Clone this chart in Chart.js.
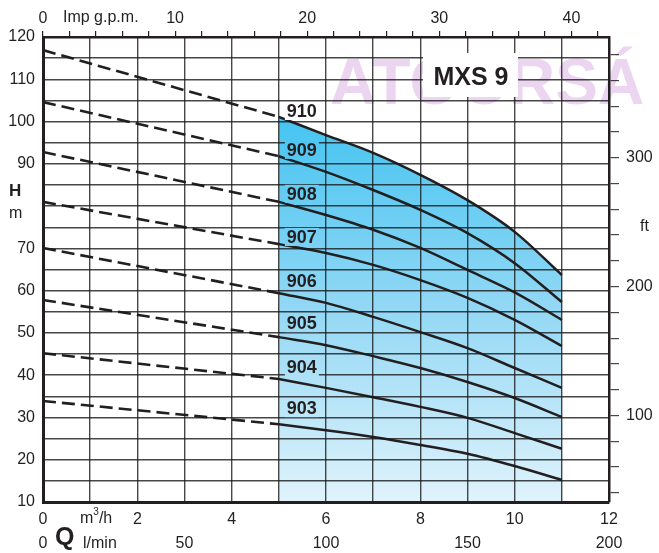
<!DOCTYPE html>
<html lang="en">
<head>
<meta charset="UTF-8">
<title>MXS 9</title>
<script src="https://cdn.jsdelivr.net/npm/chart.js@4.4.1/dist/chart.umd.min.js"></script>
<style>
  html, body { margin: 0; padding: 0; background: #fff; }
  #wrap { width: 659px; height: 553px; position: relative; }
</style>
</head>
<body>
<div id="wrap"><canvas id="pump"></canvas></div>
<script>
// pump models, top curve first
const models = ['910', '909', '908', '907', '906', '905', '904', '903'];

// Q (m3/h) for the solid part of each curve
const flowSolid = [5, 6, 7, 8, 9, 10, 11];

// H (m)
const head910 = [101.1, 96.8, 92.6, 87.4, 81.4, 73.9, 63.7];
const head909 = [91.8, 88.1, 83.8, 79.1, 73.6, 66.5, 57.3];
const head908 = [81.0, 77.9, 74.4, 70.1, 64.9, 59.6, 53.1];
const head907 = [71.0, 68.9, 66.1, 62.5, 58.3, 53.1, 46.9];
const head906 = [59.4, 57.1, 53.8, 50.2, 46.4, 41.7, 37.0];
const head905 = [49.0, 47.1, 44.5, 41.7, 38.4, 34.6, 30.1];
const head904 = [39.1, 37.0, 34.8, 32.5, 29.9, 26.3, 22.6];
const head903 = [28.4, 27.0, 25.4, 23.5, 21.4, 18.5, 15.2];
const heads = [head910, head909, head908, head907, head906, head905, head904, head903];

// dashed part: from Q = 0 to the start of the solid part
const flowDashed = [0, 5];
const shutoffHead = [116.9, 104.6, 92.8, 81.0, 70.1, 57.8, 45.2, 33.9];

// where each model name sits (m)
const labelHead = [102.5, 93.3, 82.9, 72.7, 62.3, 52.3, 41.9, 32.2];

// tick labels (80 m is left out, the H / m title sits there)
const qLabels = [0, 2, 4, 6, 8, 10, 12];
const headLabels = [10, 20, 30, 40, 50, 60, 70, 90, 100, 110, 120];
const gpmLabels = [0, 10, 20, 30, 40];
const lminLabels = [0, 50, 100, 150, 200];
const ftLabels = [100, 200, 300];

const FONT = '"Liberation Sans", Arial, sans-serif';
const INK = '#231f20';
const GPM_PER_M3H = 3.57;
const M_PER_FT = 0.3048;

function shade(chart) {
  const { ctx, chartArea, scales } = chart;
  const top = scales.y.getPixelForValue(head910[0]);
  const g = ctx.createLinearGradient(0, top, 0, chartArea.bottom);
  g.addColorStop(0, '#45c4f1');
  g.addColorStop(0.5, '#93d8f5');
  g.addColorStop(1, '#e0f3fc');
  return g;
}

const datasets = [];
models.forEach((m, i) => {
  datasets.push({
    label: m + ' dashed',
    data: flowDashed.map((q, k) => ({ x: q, y: k === 0 ? shutoffHead[i] : heads[i][0] })),
    borderColor: INK,
    borderWidth: 2.6,
    borderDash: [13, 6],
    pointRadius: 0,
    fill: false,
    order: 1
  });
  datasets.push({
    label: m,
    data: flowSolid.map((q, k) => ({ x: q, y: heads[i][k] })),
    borderColor: INK,
    borderWidth: 2.5,
    pointRadius: 0,
    cubicInterpolationMode: 'monotone',
    fill: i === 0 ? 'start' : false,
    backgroundColor: i === 0 ? (c) => c.chart.chartArea ? shade(c.chart) : 'transparent' : 'transparent',
    order: i === 0 ? 5 : 1
  });
});

const gridColor = 'rgba(25,25,25,0.8)';

const extras = {
  id: 'extras',
  beforeDraw(chart) {
    const { ctx } = chart;
    ctx.save();
    ctx.fillStyle = '#fff';
    ctx.fillRect(0, 0, chart.width, chart.height);
    // watermark
    ctx.fillStyle = 'rgba(195,125,210,0.32)';
    ctx.font = 'bold 64px ' + FONT;
    ctx.textAlign = 'left';
    ctx.textBaseline = 'alphabetic';
    ctx.fillText('ATOORSÁ', 330, 104);
    ctx.restore();
  },
  afterDraw(chart) {
    const { ctx, scales } = chart;
    const x = scales.x, y = scales.y;
    ctx.save();
    ctx.fillStyle = INK;
    ctx.textBaseline = 'middle';

    // model names on the curves
    const g = shade(chart);
    ctx.font = 'bold 18px ' + FONT;
    ctx.textAlign = 'left';
    models.forEach((m, i) => {
      const px = x.getPixelForValue(5.17);
      const py = y.getPixelForValue(labelHead[i]);
      const w = ctx.measureText(m).width;
      ctx.fillStyle = i === 0 ? '#fff' : g;
      ctx.fillRect(px - 2, py - 9, w + 4, 18);
      ctx.fillStyle = INK;
      ctx.fillText(m, px, py + 1);
    });

    // title box
    ctx.fillStyle = '#fff';
    ctx.fillRect(423, 53, 95, 44);
    ctx.fillStyle = INK;
    ctx.font = 'bold 25px ' + FONT;
    ctx.textAlign = 'center';
    ctx.fillText('MXS 9', 471, 78);

    // axis names
    ctx.font = '16px ' + FONT;
    ctx.textAlign = 'left';
    ctx.fillText('Imp g.p.m.', 63, 18);
    ctx.fillText('m', 9, 214);
    ctx.fillText('ft', 640, 227);
    ctx.fillText('l/min', 83, 544);
    ctx.font = '16px ' + FONT;
    ctx.fillText('m', 80, 519);
    let cx = 80 + ctx.measureText('m').width;
    ctx.font = '10px ' + FONT;
    ctx.fillText('3', cx, 512);
    cx += ctx.measureText('3').width;
    ctx.font = '16px ' + FONT;
    ctx.fillText('/h', cx, 519);
    ctx.font = 'bold 17px ' + FONT;
    ctx.fillText('H', 9, 191);
    ctx.font = 'bold 25px ' + FONT;
    ctx.fillText('Q', 55, 538);
    ctx.restore();
  }
};

new Chart(document.getElementById('pump'), {
  type: 'line',
  data: { datasets },
  options: {
    responsive: true,
    maintainAspectRatio: false,
    animation: false,
    layout: { padding: 0 },
    plugins: { legend: { display: false }, tooltip: { enabled: false } },
    scales: {
      x: {
        type: 'linear', position: 'bottom', weight: 0,
        min: 0, max: 12,
        ticks: {
          stepSize: 1, autoSkip: false, maxRotation: 0, padding: 8,
          color: INK, font: { family: FONT, size: 16 },
          callback: (v) => qLabels.includes(v) ? v : ''
        },
        grid: { color: gridColor, lineWidth: 1.4, drawTicks: false, z: 1 },
        border: { color: INK, width: 3, z: 2 },
        afterFit: (s) => { s.height = 24; }
      },
      x3: {
        type: 'linear', position: 'bottom', weight: 1,
        min: 0, max: 200,
        ticks: {
          stepSize: 50, autoSkip: false, maxRotation: 0, padding: 0,
          color: INK, font: { family: FONT, size: 16 },
          callback: (v) => lminLabels.includes(v) ? v : ''
        },
        grid: { display: false },
        border: { display: false },
        afterFit: (s) => { s.height = 27; }
      },
      x2: {
        type: 'linear', position: 'top',
        min: 0, max: 12 * GPM_PER_M3H,
        ticks: {
          stepSize: 2, autoSkip: false, maxRotation: 0, padding: 3, includeBounds: false,
          color: INK, font: { family: FONT, size: 16 },
          callback: (v) => gpmLabels.includes(v) ? v : ''
        },
        grid: { drawOnChartArea: false, tickLength: 6, tickColor: INK, lineWidth: 1.2 },
        border: { color: INK, width: 2.5, z: 2 },
        afterFit: (s) => { s.height = 37; }
      },
      y: {
        type: 'linear', position: 'left',
        min: 10, max: 120,
        ticks: {
          stepSize: 5, autoSkip: false, padding: 8,
          color: INK, font: { family: FONT, size: 16 },
          callback: (v) => headLabels.includes(v) ? v : ''
        },
        grid: { color: gridColor, lineWidth: 1.4, drawTicks: false, z: 1 },
        border: { color: INK, width: 3, z: 2 },
        afterFit: (s) => { s.width = 43; }
      },
      y2: {
        type: 'linear', position: 'right',
        min: 10 / M_PER_FT, max: 120 / M_PER_FT,
        ticks: {
          stepSize: 20, autoSkip: false, padding: 7, includeBounds: false,
          color: INK, font: { family: FONT, size: 16 },
          callback: (v) => ftLabels.includes(v) ? v : ''
        },
        grid: { drawOnChartArea: false, tickLength: 10, tickColor: 'rgba(25,25,25,0.8)', lineWidth: 1.2 },
        border: { color: INK, width: 2.5, z: 2 },
        afterFit: (s) => { s.width = 50; }
      }
    }
  },
  plugins: [extras]
});
</script>
</body>
</html>
